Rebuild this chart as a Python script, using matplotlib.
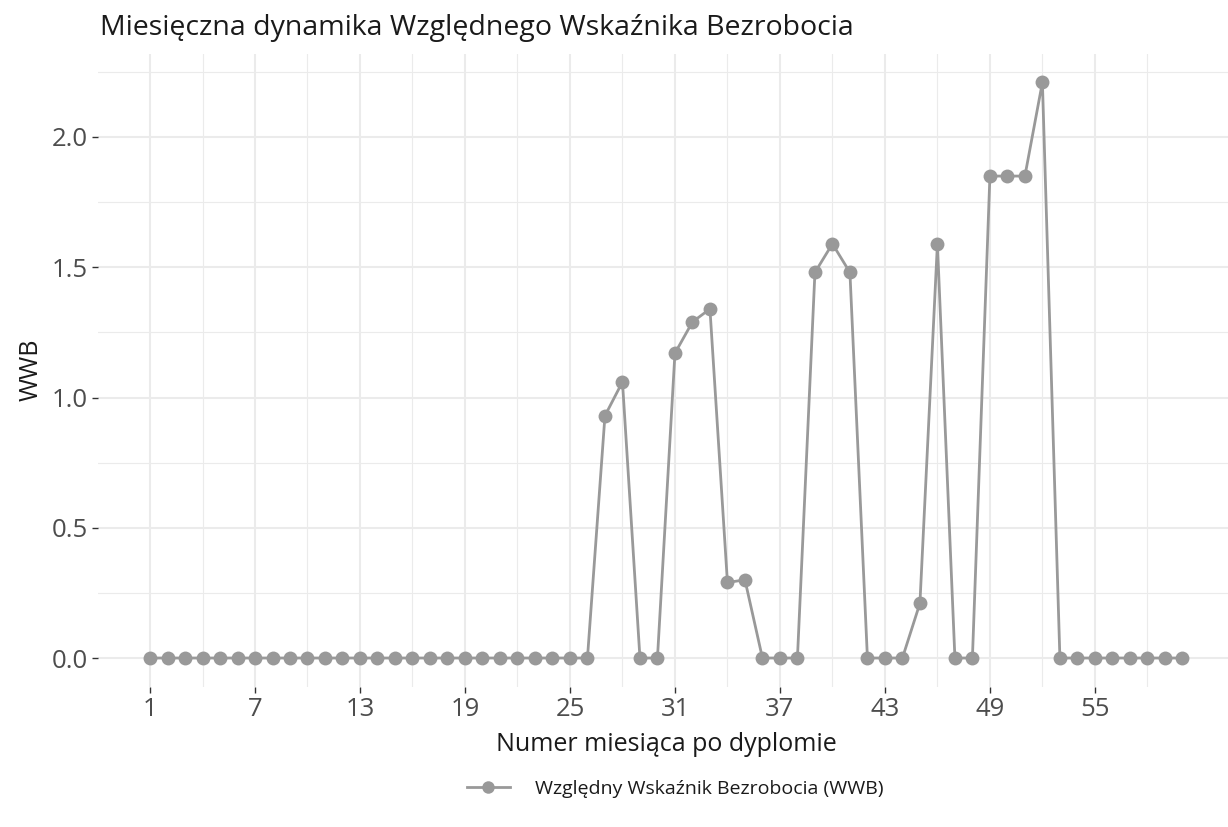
import numpy as np
import matplotlib
matplotlib.use("Agg")
import matplotlib.pyplot as plt
from matplotlib.lines import Line2D

plt.rcParams["font.family"] = ["Open Sans", "DejaVu Sans"]

# ---- data
months = np.arange(1, 61)
wwb = np.zeros(60)
peaks = {27: 0.93, 28: 1.06, 31: 1.17, 32: 1.29, 33: 1.34, 34: 0.29, 35: 0.30,
         39: 1.48, 40: 1.59, 41: 1.48, 45: 0.21, 46: 1.59,
         49: 1.85, 50: 1.85, 51: 1.85, 52: 2.21}
for m, v in peaks.items():
    wwb[m - 1] = v

x_ticks = [1, 7, 13, 19, 25, 31, 37, 43, 49, 55]
x_minor = [4, 10, 16, 22, 28, 34, 40, 46, 52, 58]
y_ticks = [0.0, 0.5, 1.0, 1.5, 2.0]
y_minor = [0.25, 0.75, 1.25, 1.75, 2.25]

C_LINE = "#999999"
C_GRID = "#EBEBEB"
C_TEXT = "#4D4D4D"

W, H = 1228, 827
fig = plt.figure(figsize=(W / 100, H / 100), dpi=100)
# panel in pixels: left 98.4, right 1234, top 53.5, bottom 686.8
ax = fig.add_axes([98.4 / W, 1 - 686.8 / H, (1234 - 98.4) / W, (686.8 - 53.5) / H])

ax.plot(months, wwb, color=C_LINE, linewidth=2.0, marker="o", markersize=10,
        markeredgewidth=0, zorder=3)

ax.set_xlim(1 - 2.95, 60 + 2.95)
ax.set_ylim(-0.1105, 2.3205)
ax.set_xticks(x_ticks)
ax.set_xticks(x_minor, minor=True)
ax.set_yticks(y_ticks)
ax.set_yticks(y_minor, minor=True)
ax.set_yticklabels([f"{v:.1f}" for v in y_ticks])

ax.grid(which="major", color=C_GRID, linewidth=1.5)
ax.grid(which="minor", color=C_GRID, linewidth=0.8)
ax.set_axisbelow(True)
for s in ax.spines.values():
    s.set_visible(False)

ax.tick_params(which="major", length=4.5, width=1.0, color="#333333",
               labelsize=18.5, labelcolor=C_TEXT, pad=3)
ax.tick_params(which="minor", length=0)

ax.set_xlabel("Numer miesiąca po dyplomie", fontsize=18, color="#1A1A1A", labelpad=7)
ax.set_ylabel("WWB", fontsize=18, color="#1A1A1A", labelpad=6)

fig.text(100 / W, 1 - 35 / H, "Miesięczna dynamika Względnego Wskaźnika Bezrobocia",
         fontsize=20.5, color="#1A1A1A", ha="left", va="baseline")

handle = Line2D([0], [0], color=C_LINE, linewidth=2.0, marker="o", markersize=9,
                markeredgewidth=0)
fig.legend([handle], ["Względny Wskaźnik Bezrobocia (WWB)"], loc="center",
           bbox_to_anchor=(675 / W, 1 - 789 / H), frameon=False, fontsize=14,
           handlelength=2.2, handletextpad=1.3, labelcolor="#1A1A1A")

fig.savefig("out.png", dpi=100)
